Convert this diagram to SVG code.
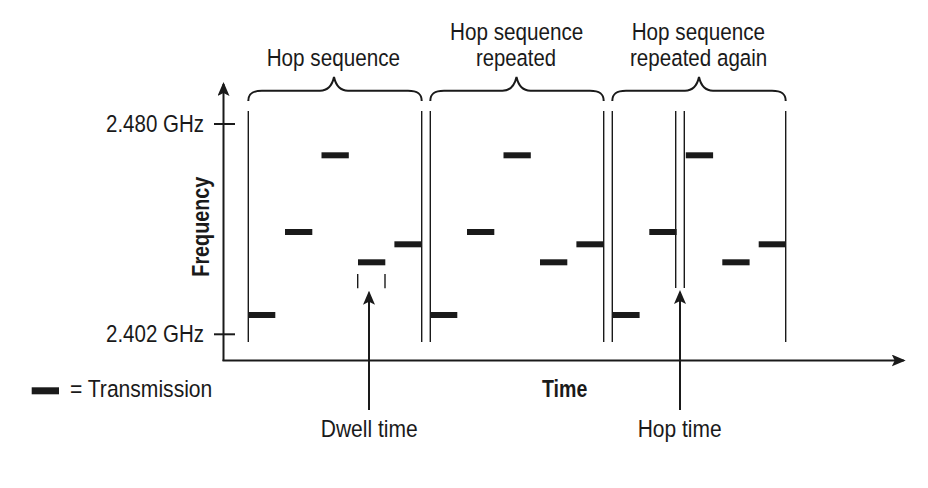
<svg xmlns="http://www.w3.org/2000/svg" width="928" height="488" viewBox="0 0 928 488">
  <style>
    .t { font-family: "Liberation Sans", Arial, sans-serif; font-size: 24.5px; fill: #1a1a1a; }
    .b { font-family: "Liberation Sans", Arial, sans-serif; font-size: 23px; font-weight: bold; fill: #1a1a1a; }
    .ax { stroke: #1a1a1a; stroke-width: 2; fill: none; }
    .seg { stroke: #1a1a1a; stroke-width: 1.4; fill: none; }
    .brace { stroke: #1a1a1a; stroke-width: 2; fill: none; }
    .bar { fill: #1a1a1a; }
  </style>
  <defs>
    <marker id="arr" viewBox="0 0 14 12" refX="12" refY="6" markerWidth="14" markerHeight="12" markerUnits="userSpaceOnUse" orient="auto">
      <path d="M0,0 L14,6 L0,12 L3,6 Z" fill="#1a1a1a"/>
    </marker>
    <rect id="bar" width="27.3" height="6" class="bar"/>
    <g id="seq">
      <use href="#bar" x="248" y="312"/>
      <use href="#bar" x="285" y="229"/>
      <use href="#bar" x="321.5" y="152.3"/>
      <use href="#bar" x="358" y="259.3"/>
      <use href="#bar" x="394.4" y="241.3"/>
    </g>
  </defs>

  <g id="axes">
    <line class="ax" x1="223.5" y1="361" x2="223.5" y2="84" marker-end="url(#arr)"/>
    <line class="ax" x1="222.5" y1="360.5" x2="903.7" y2="360.5" marker-end="url(#arr)"/>
    <line class="ax" x1="214" y1="124" x2="235" y2="124"/>
    <line class="ax" x1="214" y1="334.3" x2="235" y2="334.3"/>
  </g>

  <g id="boundaries">
    <line class="seg" x1="248.3" y1="111" x2="248.3" y2="342"/>
    <line class="seg" x1="421.7" y1="111" x2="421.7" y2="342"/>
    <line class="seg" x1="430.3" y1="111" x2="430.3" y2="342"/>
    <line class="seg" x1="603.7" y1="111" x2="603.7" y2="342"/>
    <line class="seg" x1="612.3" y1="111" x2="612.3" y2="342"/>
    <line class="seg" x1="785.7" y1="111" x2="785.7" y2="342"/>
    <line class="seg" x1="675.7" y1="111" x2="675.7" y2="288"/>
    <line class="seg" x1="684.3" y1="111" x2="684.3" y2="288"/>
    <line class="seg" x1="357.7" y1="274" x2="357.7" y2="288.3"/>
    <line class="seg" x1="385" y1="274" x2="385" y2="288.3"/>
  </g>

  <g id="transmissions">
    <use href="#seq"/>
    <use href="#seq" x="182"/>
    <use href="#seq" x="364.3"/>
  </g>

  <g id="braces">
    <path class="brace" d="M248.3,101 C248.3,94 252,90.7 262,90.7 L320,90.7 C328,90.7 332,86 334,77 C336,86 340,90.7 348,90.7 L408,90.7 C418,90.7 421.7,94 421.7,101"/>
    <path class="brace" d="M430.3,101 C430.3,94 434,90.7 444,90.7 L502.5,90.7 C510.5,90.7 514.5,86 516.5,77 C518.5,86 522.5,90.7 530.5,90.7 L590,90.7 C600,90.7 603.7,94 603.7,101"/>
    <path class="brace" d="M612.3,101 C612.3,94 616,90.7 626,90.7 L685,90.7 C693,90.7 697,86 699,77 C701,86 705,90.7 713,90.7 L772,90.7 C782,90.7 785.7,94 785.7,101"/>
  </g>

  <g id="connectors">
    <line class="ax" x1="369" y1="410" x2="369" y2="292.7" marker-end="url(#arr)"/>
    <line class="ax" x1="680" y1="410" x2="680" y2="292" marker-end="url(#arr)"/>
  </g>

  <g id="legend">
    <rect x="31.7" y="387.3" width="27.3" height="7" class="bar"/>
    <text class="t" x="70" y="397" textLength="142.3" lengthAdjust="spacingAndGlyphs">= Transmission</text>
  </g>

  <g id="labels">
    <text class="t" x="266.7" y="66" textLength="133.3" lengthAdjust="spacingAndGlyphs">Hop sequence</text>
    <text class="t" x="450" y="40" textLength="133.3" lengthAdjust="spacingAndGlyphs">Hop sequence</text>
    <text class="t" x="476" y="66" textLength="80" lengthAdjust="spacingAndGlyphs">repeated</text>
    <text class="t" x="631.7" y="40" textLength="133.3" lengthAdjust="spacingAndGlyphs">Hop sequence</text>
    <text class="t" x="630" y="66" textLength="137.3" lengthAdjust="spacingAndGlyphs">repeated again</text>
    <text class="t" x="106" y="132" textLength="98" lengthAdjust="spacingAndGlyphs">2.480 GHz</text>
    <text class="t" x="106" y="342" textLength="98" lengthAdjust="spacingAndGlyphs">2.402 GHz</text>
    <text class="b" font-size="24.5" transform="translate(209,276.7) rotate(-90)" x="0" y="0" textLength="100" lengthAdjust="spacingAndGlyphs">Frequency</text>
    <text class="b" x="542" y="397" textLength="45.3" lengthAdjust="spacingAndGlyphs">Time</text>
    <text class="t" x="320.7" y="437" textLength="97" lengthAdjust="spacingAndGlyphs">Dwell time</text>
    <text class="t" x="637.7" y="437" textLength="84" lengthAdjust="spacingAndGlyphs">Hop time</text>
  </g>
</svg>
